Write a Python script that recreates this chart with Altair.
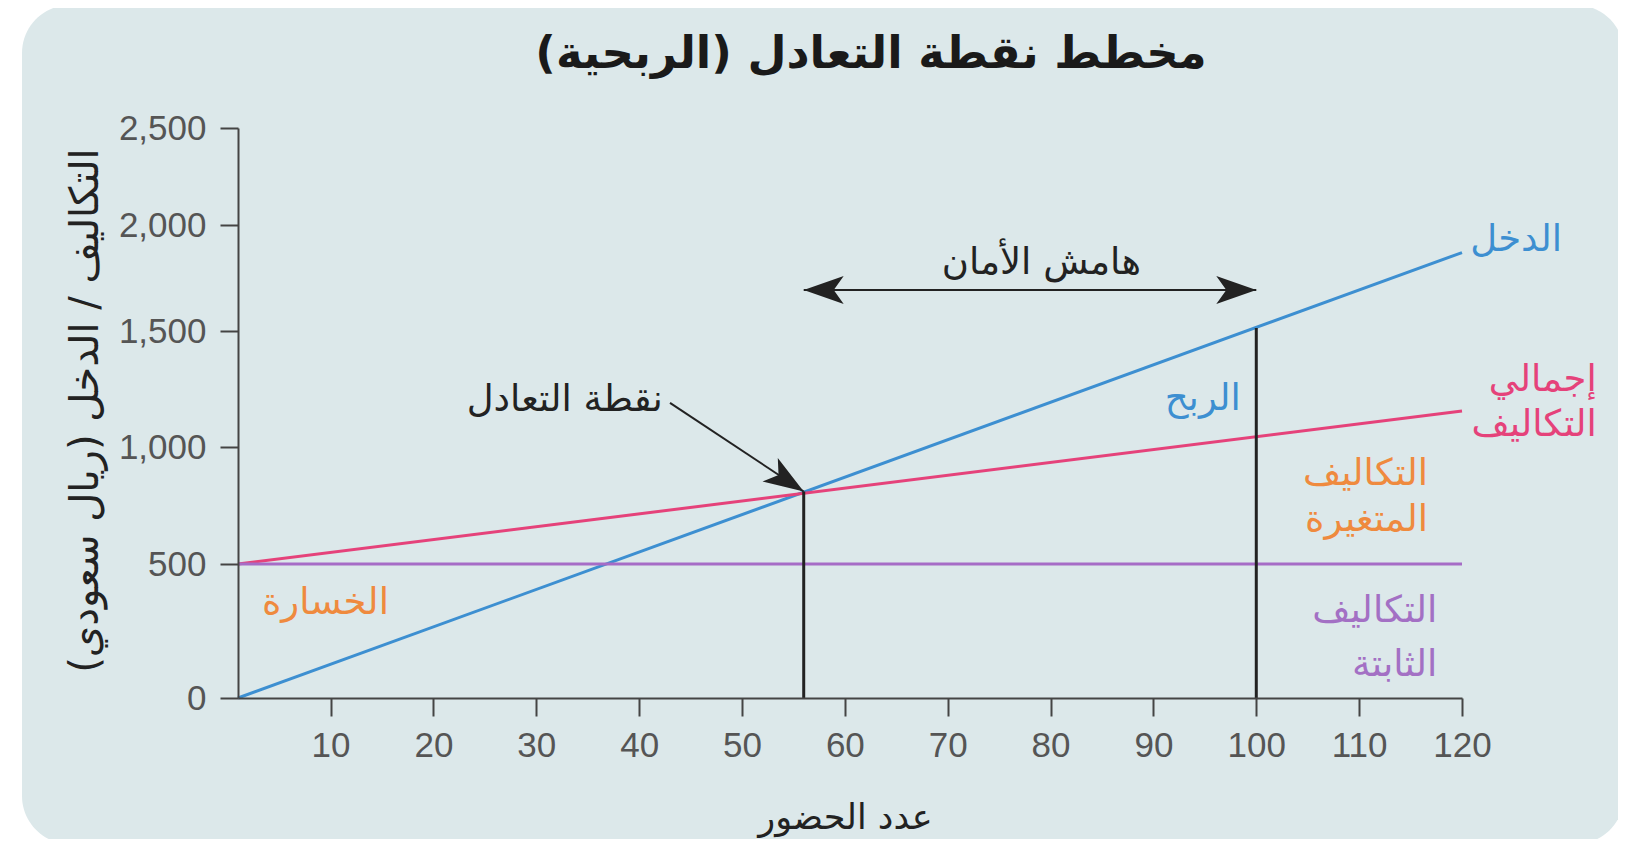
import altair as alt
import pandas as pd

# ---------------- data ----------------
x_ticks = [10, 20, 30, 40, 50, 60, 70, 80, 90, 100, 110, 120]
y_ticks = [0, 500, 1000, 1500, 2000, 2500]
# the printed y axis is not evenly spaced; these are the tick positions (px from top)
y_tick_px = [570, 436, 319, 203, 97, 0]

x_start, x_end = 1, 120
revenue = [0, 1870]          # الدخل
total_cost = [500, 1155]     # إجمالي التكاليف
fixed_cost = [500, 500]      # التكاليف الثابتة

break_even_x, break_even_y = 56, 810
safety_x, safety_y = 100, 1514
safety_arrow_y = 1693
be_arrow_from = (43, 1190)

RLM = "\u200f"
title_text = "مخطط نقطة التعادل (الربحية)" + RLM
x_title = "عدد الحضور"
y_title = "التكاليف / الدخل (ريال سعودي)" + RLM

BLUE = "#3d8fd1"
PINK = "#e5427a"
PURPLE = "#a66cc6"
ORANGE = "#ef8a3e"
LPURPLE = "#a370c4"
DARK = "#222222"
BG = "#dce8ea"
AR_FONT = "DejaVu Sans"

lines_df = pd.DataFrame({
    "series": ["revenue", "revenue", "total", "total", "fixed", "fixed"],
    "x": [x_start, x_end] * 3,
    "y": revenue + total_cost + fixed_cost,
})

rules_df = pd.DataFrame({
    "x": [break_even_x, safety_x],
    "y": [0, 0],
    "y2": [break_even_y, safety_y],
})

shafts_df = pd.DataFrame({
    "x": [be_arrow_from[0], break_even_x],
    "y": [be_arrow_from[1], safety_arrow_y],
    "x2": [break_even_x, safety_x],
    "y2": [break_even_y, safety_arrow_y],
})

heads_df = pd.DataFrame({
    "x": [break_even_x, break_even_x, safety_x],
    "y": [break_even_y, safety_arrow_y, safety_arrow_y],
    "angle": [33, 180, 0],
})

labels_right = pd.DataFrame({
    "text": ["إجمالي", "التكاليف", "التكاليف", "المتغيرة", "التكاليف", "الثابتة", "نقطة التعادل"],
    "x": [133.1, 133.1, 116.7, 116.7, 117.6, 117.6, 42.3],
    "y": [1289, 1095, 885, 688, 325, 123, 1203],
    "color": [PINK, PINK, ORANGE, ORANGE, LPURPLE, LPURPLE, DARK],
})
labels_left = pd.DataFrame({
    "text": ["الدخل"],
    "x": [120.8],
    "y": [1929],
    "color": [BLUE],
})
labels_center = pd.DataFrame({
    "text": ["الربح", "الخسارة", "هامش الأمان"],
    "x": [94.8, 9.5, 79.1],
    "y": [1207, 354, 1821],
    "color": [BLUE, ORANGE, DARK],
})

# ---------------- chart ----------------
W, H = 1224, 570

xs = alt.Scale(domain=[x_start, x_end], nice=False, zero=False)
ys = alt.Scale(domain=y_ticks, range=y_tick_px, nice=False)

axis_style = dict(
    grid=False, zindex=2, labelFlush=False,
    domainColor="#444", domainWidth=2,
    tickColor="#444", tickWidth=2, tickSize=18,
    labelFont="Liberation Sans", labelFontSize=35, labelColor="#555",
    titleFont=AR_FONT, titleFontWeight="normal", titleColor=DARK,
    titleAlign="center", titleBaseline="middle",
)

X = alt.X("x:Q", scale=xs, axis=alt.Axis(
    values=x_ticks, format="d", title=x_title, titleFontSize=35,
    titleX=607, titleY=119, labelPadding=12, **axis_style
))
Y = alt.Y("y:Q", scale=ys, axis=alt.Axis(
    values=y_ticks, format=",d", title=y_title, titleFontSize=40,
    titleX=-153, titleY=282, titleAngle=270, labelPadding=14, **axis_style
))

bg = alt.Chart(pd.DataFrame({"k": [0]})).mark_rect(
    color=BG, cornerRadius=48
).encode(
    x=alt.value(-216), x2=alt.value(1386), y=alt.value(-123), y2=alt.value(716)
)

lines = alt.Chart(lines_df).mark_line(strokeWidth=3).encode(
    x=X, y=Y,
    color=alt.Color("series:N", scale=alt.Scale(domain=["fixed", "total", "revenue"],
                                                range=[PURPLE, PINK, BLUE]), legend=None),
    order=alt.Order("x:Q"),
)

rules = alt.Chart(rules_df).mark_rule(color=DARK, strokeWidth=3).encode(
    x=X, y=Y, y2="y2:Q"
)

shafts = alt.Chart(shafts_df).mark_rule(color=DARK, strokeWidth=2).encode(
    x="x:Q", y="y:Q", x2="x2:Q", y2="y2:Q"
)

ARROW = "M0,0 L-2,-0.7 L-1.5,0 L-2,0.7 Z"
heads = alt.Chart(heads_df).mark_point(
    shape=ARROW, filled=True, size=1600, color=DARK, opacity=1, strokeWidth=0
).encode(
    x="x:Q", y="y:Q", angle=alt.Angle("angle:Q", scale=None)
)

def text_layer(df, align):
    return alt.Chart(df).mark_text(
        font=AR_FONT, fontSize=37, align=align, baseline="middle"
    ).encode(
        x="x:Q", y="y:Q", text="text:N", color=alt.Color("color:N", scale=None)
    )

chart = alt.layer(
    bg, lines, rules, shafts, heads,
    text_layer(labels_right, "right"),
    text_layer(labels_left, "left"),
    text_layer(labels_center, "center"),
).properties(
    width=W, height=H,
    padding={"left": 230, "top": 120, "right": 156, "bottom": 141},
    autosize=alt.AutoSizeParams(type="none"),
    background="white",
    title=alt.TitleParams(
        text=title_text, font=AR_FONT, fontSize=45, fontWeight="bold", color="#1a1a1a",
        anchor="middle", baseline="bottom", offset=0, dy=117, dx=21,
    ),
).configure_view(
    stroke=None
)

chart.save("out.html", embed_options={"renderer": "svg", "actions": False})
